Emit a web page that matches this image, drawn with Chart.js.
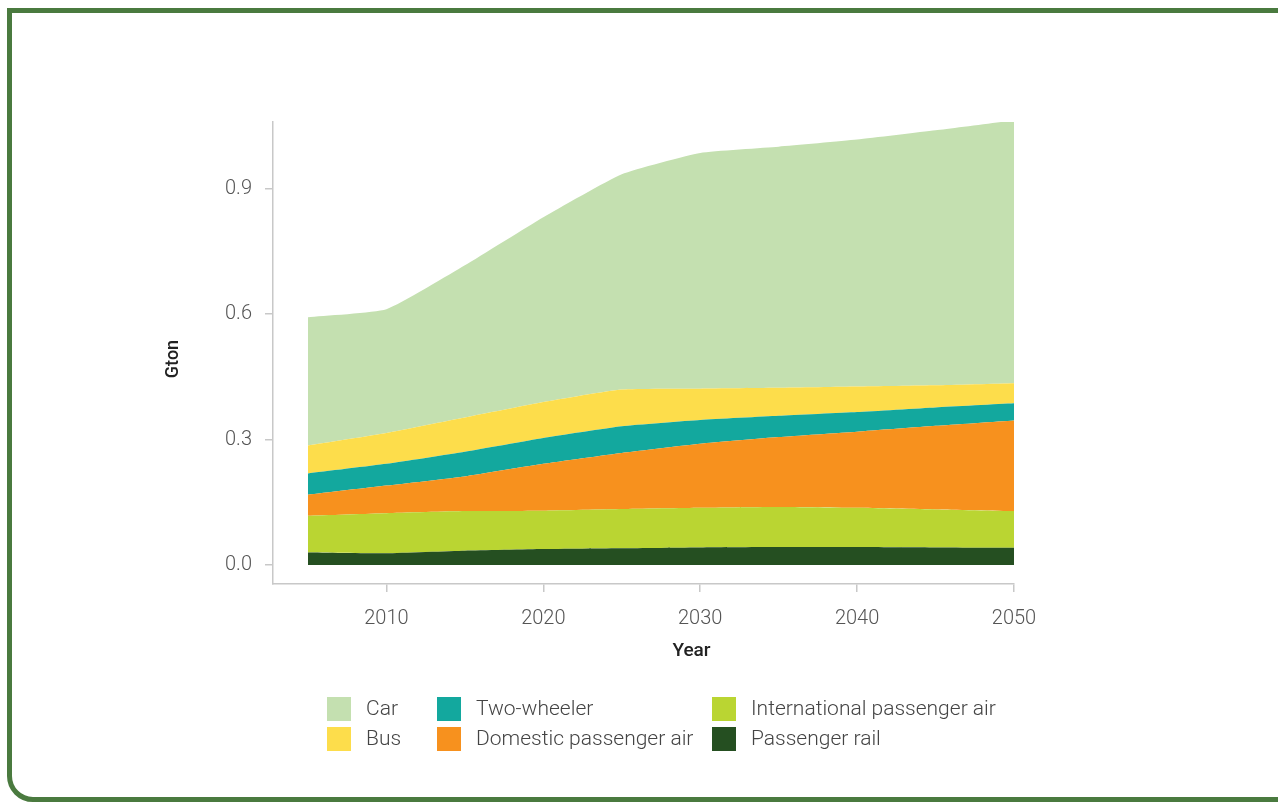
<!DOCTYPE html>
<html>
<head>
<meta charset="utf-8">
<script src="https://cdn.jsdelivr.net/npm/chart.js@4.4.1/dist/chart.umd.min.js"></script>
<style>
  html, body { margin: 0; padding: 0; background: #fff; overflow: hidden; }
  body { width: 1278px; height: 802px; position: relative; font-family: Roboto, sans-serif; }
  #frame {
    position: absolute; left: 7px; top: 8px; width: 1400px; height: 784px;
    border: 5px solid #4a7a3f; border-radius: 0 0 0 26px;
  }
  #wrap { position: absolute; left: 0; top: 0; width: 1278px; height: 802px; }
  .lg-box { position: absolute; width: 24px; height: 24px; }
  .lg-txt { position: absolute; font-size: 21px; font-weight: 300; color: #444; line-height: 24px; white-space: nowrap; }
</style>
</head>
<body>
<div id="frame"></div>
<div id="wrap"><canvas id="myChart"></canvas></div>
<div id="legend"></div>
<script>
// years on the x axis
const years = [2005, 2010, 2015, 2020, 2025, 2030, 2035, 2040, 2045, 2050];

// emissions by mode, Gton
const rail = [0.030, 0.028, 0.034, 0.038, 0.040, 0.042, 0.043, 0.043, 0.042, 0.041];
const intlAir = [0.088, 0.096, 0.095, 0.092, 0.094, 0.095, 0.096, 0.094, 0.091, 0.088];
const domesticAir = [0.050, 0.066, 0.083, 0.112, 0.134, 0.153, 0.167, 0.182, 0.200, 0.217];
const twoWheeler = [0.051, 0.052, 0.059, 0.062, 0.064, 0.057, 0.051, 0.047, 0.044, 0.041];
const bus = [0.067, 0.074, 0.082, 0.086, 0.088, 0.075, 0.067, 0.061, 0.053, 0.048];
const car = [0.307, 0.296, 0.364, 0.442, 0.515, 0.564, 0.577, 0.591, 0.610, 0.629];

const yTicks = [0, 0.3, 0.6, 0.9];
const xTicks = [2010, 2020, 2030, 2040, 2050];

// bottom to top
const series = [
    { name: 'Passenger rail', data: rail, color: '#254f21' },
    { name: 'International passenger air', data: intlAir, color: '#bad532' },
    { name: 'Domestic passenger air', data: domesticAir, color: '#f7911e' },
    { name: 'Two-wheeler', data: twoWheeler, color: '#13a89e' },
    { name: 'Bus', data: bus, color: '#fddd4b' },
    { name: 'Car', data: car, color: '#c4e0b0' }
];

// legend reading order (columns)
const legendOrder = ['Car', 'Bus', 'Two-wheeler', 'Domestic passenger air', 'International passenger air', 'Passenger rail'];

// axis titles drawn by hand so they can sit where the original has them
const axisTitles = {
    id: 'axisTitles',
    afterDraw(chart) {
        const c = chart.ctx;
        const a = chart.chartArea;
        c.save();
        c.fillStyle = '#222';
        c.font = '500 19px Roboto';
        c.textAlign = 'center';
        c.textBaseline = 'middle';
        c.fillText('Year', (a.left + a.right) / 2 + 48, 651);
        c.translate(173, (a.top + a.bottom) / 2 + 6);
        c.rotate(-Math.PI / 2);
        c.font = '500 18px Roboto';
        c.fillText('Gton', 0, 0);
        c.restore();
    }
};

const ctx = document.getElementById('myChart');

const myChart = new Chart(ctx, {
    type: 'line',
    data: {
        datasets: series.map((s, i) => ({
            label: s.name,
            data: s.data.map((v, j) => ({ x: years[j], y: v })),
            backgroundColor: s.color,
            borderColor: s.color,
            borderWidth: 0,
            pointRadius: 0,
            fill: i == 0 ? 'origin' : '-1',
            tension: 0.15
        }))
    },
    options: {
        responsive: true,
        maintainAspectRatio: false,
        animation: false,
        layout: {
            padding: { left: 159, right: 264, top: 122, bottom: 136 }
        },
        plugins: {
            legend: { display: false },
            tooltip: { enabled: false }
        },
        scales: {
            x: {
                type: 'linear',
                min: 2002.77,
                max: 2050,
                afterBuildTicks: (s) => { s.ticks = xTicks.map(v => ({ value: v })); },
                afterFit: (s) => { s.height = 82; },
                grid: { drawOnChartArea: false, drawTicks: true, tickLength: 8, color: '#c8c8c8', lineWidth: 1.5 },
                border: { color: '#c8c8c8', width: 1.5 },
                ticks: {
                    color: '#555',
                    font: { family: 'Roboto', size: 20, weight: 300 },
                    padding: 15,
                    maxRotation: 0,
                    callback: (v) => String(v)
                }
            },
            y: {
                stacked: true,
                min: -0.0455,
                max: 1.06,
                afterBuildTicks: (s) => { s.ticks = yTicks.map(v => ({ value: v })); },
                afterFit: (s) => { s.width = 114; },
                grid: { drawOnChartArea: false, drawTicks: true, tickLength: 8, color: '#c8c8c8', lineWidth: 1.5 },
                border: { color: '#c8c8c8', width: 1.5 },
                ticks: {
                    color: '#555',
                    font: { family: 'Roboto', size: 20, weight: 300 },
                    padding: 13,
                    callback: (v) => v.toFixed(1)
                }
            }
        }
    },
    plugins: [axisTitles]
});

// html legend, 3 columns x 2 rows
const colLeft = [327, 437, 712];
const rowTop = [697, 727];
const legend = document.getElementById('legend');
legendOrder.forEach((name, k) => {
    const s = series.find(d => d.name == name);
    const col = Math.floor(k / 2), row = k % 2;
    const box = document.createElement('div');
    box.className = 'lg-box';
    box.style.left = colLeft[col] + 'px';
    box.style.top = rowTop[row] + 'px';
    box.style.background = s.color;
    legend.appendChild(box);
    const txt = document.createElement('div');
    txt.className = 'lg-txt';
    txt.style.left = (colLeft[col] + 39) + 'px';
    txt.style.top = (rowTop[row] - 1) + 'px';
    txt.textContent = s.name;
    legend.appendChild(txt);
});
</script>
</body>
</html>
